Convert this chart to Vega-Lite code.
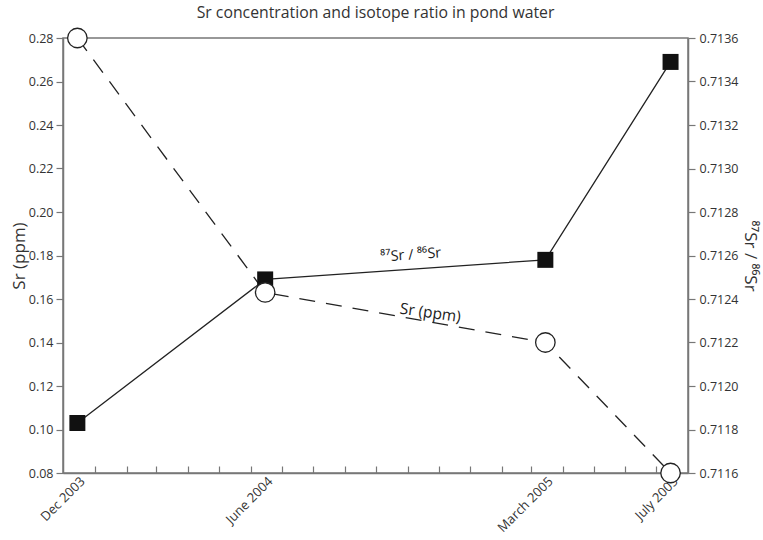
{
  "$schema": "https://vega.github.io/schema/vega-lite/v6.json",
  "width": 625,
  "height": 435,
  "autosize": {"type": "none"},
  "padding": {"left": 63, "top": 38, "right": 75, "bottom": 67},
  "background": "white",
  "title": {"text": "Sr concentration and isotope ratio in pond water", "fontSize": 15.8, "fontWeight": "normal", "font": "Open Sans", "color": "#333", "offset": 4},
  "config": {
    "view": {"stroke": "#777", "strokeWidth": 1.5},
    "axis": {"labelFont": "Open Sans", "labelFontSize": 12.5, "labelColor": "#333", "titleFont": "Open Sans", "titleFontSize": 17, "titleFontWeight": "normal", "titleColor": "#333", "domainColor": "#777", "domainWidth": 1.5, "tickColor": "#777", "tickWidth": 1.2, "grid": false, "labelOverlap": false}
  },
  "datasets": {
    "pond": [
      {"date": "2003-12-15", "sr": 0.28, "ratio": 0.71183},
      {"date": "2004-06-15", "sr": 0.163, "ratio": 0.71249},
      {"date": "2005-03-15", "sr": 0.140, "ratio": 0.71258},
      {"date": "2005-07-15", "sr": 0.080, "ratio": 0.71349}
    ],
    "notes": [
      {"date": "2004-11-04", "value": 0.7126, "label": "⁸⁷Sr / ⁸⁶Sr"}
    ],
    "notes2": [
      {"date": "2004-11-23", "value": 0.1536, "label": "Sr (ppm)"}
    ]
  },
  "resolve": {"scale": {"y": "independent"}, "axis": {"x": "independent"}},
  "layer": [
    {
      "data": {"name": "pond"},
      "mark": {"type": "line", "color": "#222", "strokeWidth": 1.3, "strokeDash": [16, 11]},
      "encoding": {
        "x": {"field": "date", "type": "temporal",
          "scale": {"type": "utc", "domain": [{"year": 2003, "month": 12, "date": 1, "utc": true}, {"year": 2005, "month": 8, "date": 1, "utc": true}]},
          "axis": {"orient": "bottom", "title": null, "labels": false, "tickSize": -7, "domain": true,
            "values": [
              {"year": 2004, "month": 1, "date": 1, "utc": true},
              {"year": 2004, "month": 2, "date": 1, "utc": true},
              {"year": 2004, "month": 3, "date": 1, "utc": true},
              {"year": 2004, "month": 4, "date": 1, "utc": true},
              {"year": 2004, "month": 5, "date": 1, "utc": true},
              {"year": 2004, "month": 6, "date": 1, "utc": true},
              {"year": 2004, "month": 7, "date": 1, "utc": true},
              {"year": 2004, "month": 8, "date": 1, "utc": true},
              {"year": 2004, "month": 9, "date": 1, "utc": true},
              {"year": 2004, "month": 10, "date": 1, "utc": true},
              {"year": 2004, "month": 11, "date": 1, "utc": true},
              {"year": 2004, "month": 12, "date": 1, "utc": true},
              {"year": 2005, "month": 1, "date": 1, "utc": true},
              {"year": 2005, "month": 2, "date": 1, "utc": true},
              {"year": 2005, "month": 3, "date": 1, "utc": true},
              {"year": 2005, "month": 4, "date": 1, "utc": true},
              {"year": 2005, "month": 5, "date": 1, "utc": true},
              {"year": 2005, "month": 6, "date": 1, "utc": true},
              {"year": 2005, "month": 7, "date": 1, "utc": true}
            ]
          }
        },
        "y": {"field": "sr", "type": "quantitative", "scale": {"domain": [0.08, 0.28], "nice": false, "zero": false},
          "axis": {"orient": "left", "title": "Sr (ppm)", "format": ".2f", "values": [0.08, 0.10, 0.12, 0.14, 0.16, 0.18, 0.20, 0.22, 0.24, 0.26, 0.28], "tickSize": 7, "labelPadding": 3, "titlePadding": 0}}
      }
    },
    {
      "data": {"name": "pond"},
      "mark": {"type": "line", "color": "#222", "strokeWidth": 1.3},
      "encoding": {
        "x": {"field": "date", "type": "temporal",
          "axis": {"orient": "bottom", "title": null, "ticks": false, "domain": false, "labelAngle": -45, "labelAlign": "right", "labelBaseline": "middle", "labelPadding": 6, "labelOffset": 5, "labelFontSize": 13,
            "values": [
              {"year": 2003, "month": 12, "date": 15, "utc": true},
              {"year": 2004, "month": 6, "date": 15, "utc": true},
              {"year": 2005, "month": 3, "date": 15, "utc": true},
              {"year": 2005, "month": 7, "date": 15, "utc": true}
            ],
            "labelExpr": "utcmonth(datum.value) == 11 ? 'Dec 2003' : utcmonth(datum.value) == 5 ? 'June 2004' : utcmonth(datum.value) == 2 ? 'March 2005' : 'July 2005'"
          }
        },
        "y": {"field": "ratio", "type": "quantitative", "scale": {"domain": [0.7116, 0.7136], "nice": false, "zero": false},
          "axis": {"orient": "right", "title": "⁸⁷Sr / ⁸⁶Sr", "titleAngle": 90, "format": ".4f", "values": [0.7116, 0.7118, 0.712, 0.7122, 0.7124, 0.7126, 0.7128, 0.713, 0.7132, 0.7134, 0.7136], "tickSize": 7, "labelPadding": 4, "titlePadding": 2}}
      }
    },
    {
      "data": {"name": "pond"},
      "mark": {"type": "point", "shape": "square", "filled": true, "color": "#111", "size": 256, "opacity": 1},
      "encoding": {
        "x": {"field": "date", "type": "temporal", "axis": null},
        "y": {"field": "ratio", "type": "quantitative", "scale": {"domain": [0.7116, 0.7136], "nice": false, "zero": false}, "axis": null}
      }
    },
    {
      "data": {"name": "pond"},
      "mark": {"type": "point", "shape": "circle", "filled": true, "fill": "white", "stroke": "#222", "strokeWidth": 1.3, "size": 380, "opacity": 1},
      "encoding": {
        "x": {"field": "date", "type": "temporal", "axis": null},
        "y": {"field": "sr", "type": "quantitative", "scale": {"domain": [0.08, 0.28], "nice": false, "zero": false}, "axis": null}
      }
    },
    {
      "data": {"name": "notes"},
      "mark": {"type": "text", "font": "Open Sans", "fontSize": 14.5, "color": "#222", "angle": -4, "baseline": "middle", "align": "center"},
      "encoding": {
        "x": {"field": "date", "type": "temporal", "axis": null},
        "y": {"field": "value", "type": "quantitative", "scale": {"domain": [0.7116, 0.7136], "nice": false, "zero": false}, "axis": null},
        "text": {"field": "label"}
      }
    },
    {
      "data": {"name": "notes2"},
      "mark": {"type": "text", "font": "Open Sans", "fontSize": 15.5, "color": "#222", "angle": 8, "baseline": "middle", "align": "center"},
      "encoding": {
        "x": {"field": "date", "type": "temporal", "axis": null},
        "y": {"field": "value", "type": "quantitative", "scale": {"domain": [0.08, 0.28], "nice": false, "zero": false}, "axis": null},
        "text": {"field": "label"}
      }
    }
  ]
}
